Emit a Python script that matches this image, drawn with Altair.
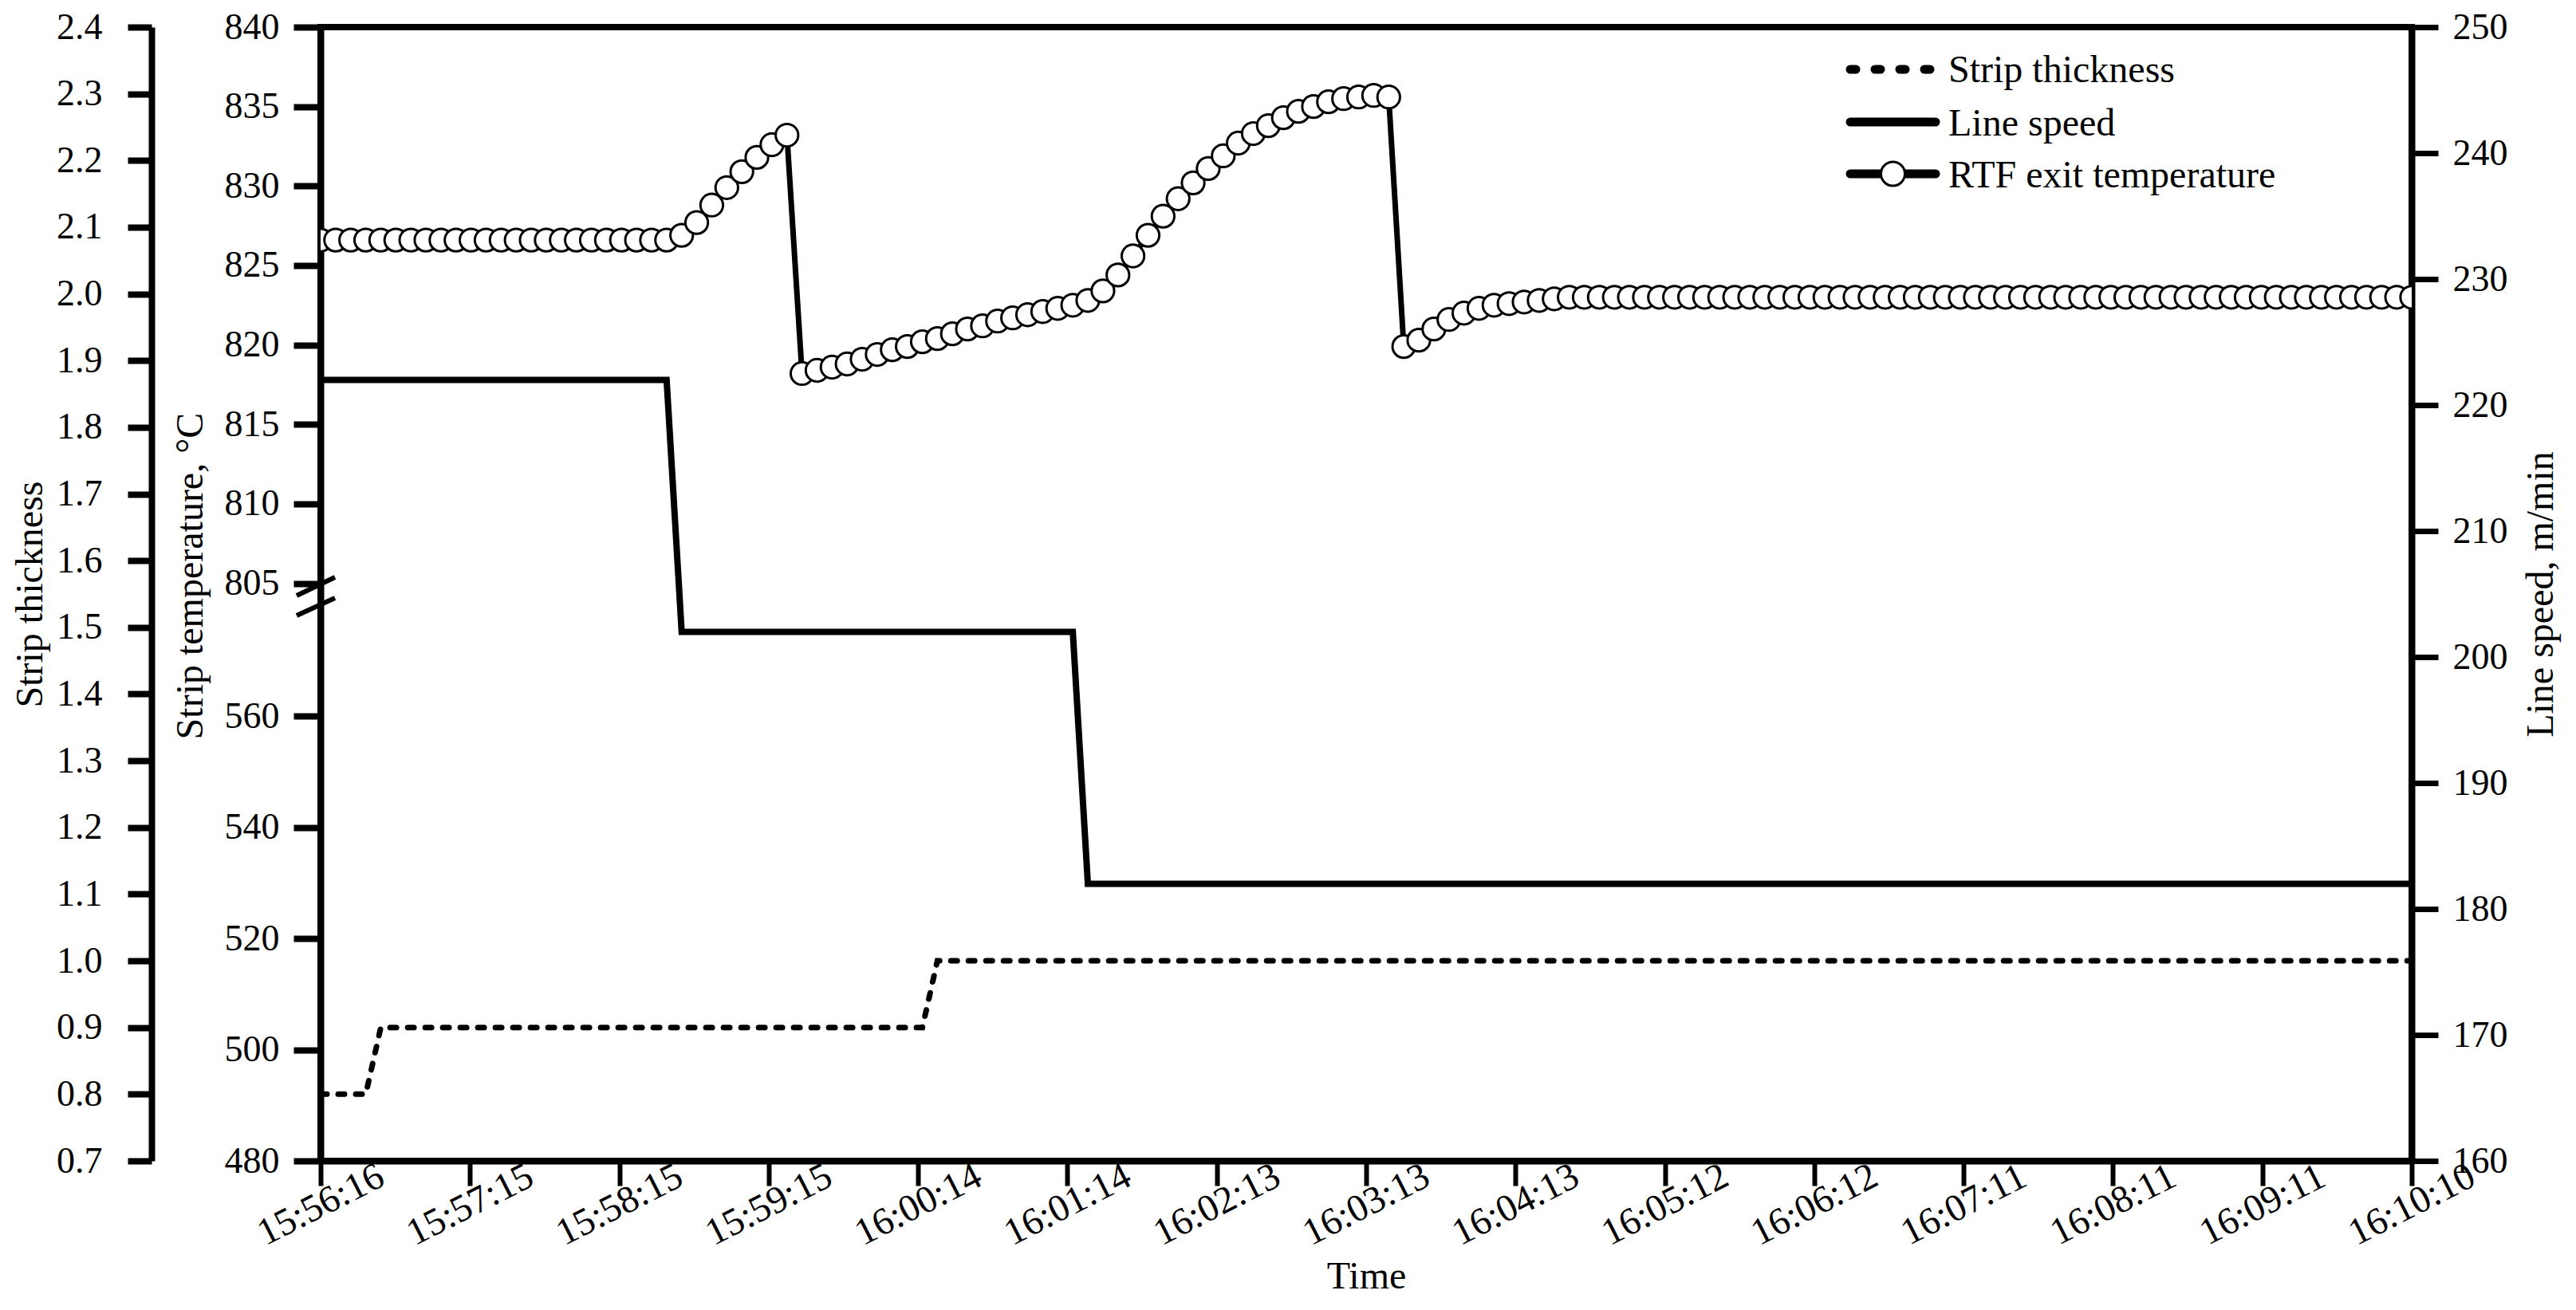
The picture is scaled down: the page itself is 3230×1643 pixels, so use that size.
import json
import altair as alt
import pandas as pd

# ---------------- data ----------------
tick_labels = ["15:56:16", "15:57:15", "15:58:15", "15:59:15", "16:00:14",
               "16:01:14", "16:02:13", "16:03:13", "16:04:13", "16:05:12",
               "16:06:12", "16:07:11", "16:08:11", "16:09:11", "16:10:10"]
span_sec = 834                      # 15:56:16 -> 16:10:10
sample_sec = list(range(0, span_sec + 1, 6))   # one sample every 6 s (140)

rtf_temp = ([826.6] * 24
            + [826.9, 827.7, 828.8, 829.9, 830.9, 831.8, 832.6, 833.2]
            + [818.2, 818.4, 818.6, 818.8, 819.1, 819.4, 819.7, 819.9, 820.2, 820.4,
               820.7, 821.0, 821.2, 821.5, 821.7, 821.9, 822.1, 822.3, 822.5, 822.8]
            + [823.4, 824.4, 825.6, 826.9, 828.1, 829.2, 830.2, 831.1, 831.9, 832.7,
               833.3, 833.8, 834.3, 834.7, 835.0, 835.3, 835.5, 835.6, 835.7, 835.6]
            + [819.9, 820.3, 821.0, 821.6, 822.0, 822.3, 822.5, 822.6, 822.7, 822.8, 822.9]
            + [823.0] * 57)
line_speed = [222] * 24 + [202] * 27 + [182] * 89
strip_thick = [0.8] * 4 + [0.9] * 37 + [1.0] * 99

thick_ticks = [0.7, 0.8, 0.9, 1.0, 1.1, 1.2, 1.3, 1.4, 1.5, 1.6, 1.7, 1.8, 1.9,
               2.0, 2.1, 2.2, 2.3, 2.4]
temp_lower_ticks = [480, 500, 520, 540, 560]
temp_upper_ticks = [805, 810, 815, 820, 825, 830, 835, 840]
speed_ticks = [160, 170, 180, 190, 200, 210, 220, 230, 240, 250]

legend_labels = ["Strip thickness", "Line speed", "RTF exit temperature"]

# ---------------- layout / style ----------------
W, H = 2622, 1422
FONT = "Liberation Serif"
# broken temperature axis: lower band 480..580, upper band 805..840
LO_BASE, LO_PX = 480, 6.975       # px per degC in lower band
UP_TOP, UP_PX = 840, 19.93        # px per degC in upper band


def vpos(t):
    return H - (UP_TOP - t) * UP_PX if t >= 700 else (t - LO_BASE) * LO_PX


temp_calc = (f"datum.temp >= 700 ? {H} - ({UP_TOP} - datum.temp) * {UP_PX}"
             f" : (datum.temp - {LO_BASE}) * {LO_PX}")
temp_label_expr = (f"datum.value > 710 ? format({UP_TOP} - ({H} - datum.value) / {UP_PX}, '.0f')"
                   f" : format({LO_BASE} + datum.value / {LO_PX}, '.0f')")

df = pd.DataFrame({"sec": sample_sec, "temp": rtf_temp,
                   "speed": line_speed, "thick": strip_thick})

x_enc = alt.X(
    "sec:Q",
    scale=alt.Scale(domain=[0, span_sec], nice=False, zero=False),
    axis=alt.Axis(
        values=[i * span_sec / 14 for i in range(15)],
        labelExpr=f"{json.dumps(tick_labels)}[round(datum.value * 14 / {span_sec})]",
        labelAngle=-27, labelAlign="center", labelBaseline="middle",
        labelPadding=24, labelFontSize=48, labelFlush=False, labelOverlap=False,
        tickSize=31, tickWidth=6, domainWidth=8, grid=False,
        title="Time", titleFontSize=48, titleY=159, titleBaseline="alphabetic",
    ),
)

base = alt.Chart(df)

thick_line = base.mark_line(color="black", strokeWidth=7, strokeDash=[8, 14],
                            strokeCap="round").encode(
    x=x_enc,
    y=alt.Y("thick:Q", scale=alt.Scale(domain=[0.7, 2.4], nice=False, zero=False),
            axis=alt.Axis(orient="left", offset=212, values=thick_ticks, format=".1f",
                          labelFontSize=46, labelPadding=32, tickSize=30, tickWidth=8,
                          domainWidth=8, grid=False, title="Strip thickness",
                          titleFontSize=48, titlePadding=8)),
)

speed_line = base.mark_line(color="black", strokeWidth=8).encode(
    x=x_enc,
    y=alt.Y("speed:Q", scale=alt.Scale(domain=[160, 250], nice=False, zero=False),
            axis=alt.Axis(orient="right", values=speed_ticks, format="d",
                          labelFontSize=46, labelPadding=18, tickSize=33, tickWidth=7,
                          domainWidth=8, grid=False, title="Line speed, m/min",
                          titleFontSize=48, titleAngle=270, titleBaseline="top",
                          titlePadding=18)),
)

temp_y = alt.Y("v:Q", scale=alt.Scale(domain=[0, H], nice=False, zero=False),
               axis=alt.Axis(orient="left", values=[vpos(t) for t in temp_lower_ticks + temp_upper_ticks],
                             labelExpr=temp_label_expr, labelFontSize=46, labelPadding=18,
                             tickSize=34, tickWidth=8, domainWidth=8, grid=False,
                             title="Strip temperature, °C", titleFontSize=48,
                             titlePadding=18, titleY=688))

temp_base = base.transform_calculate(v=temp_calc)
temp_line = temp_base.mark_line(color="black", strokeWidth=7).encode(x=x_enc, y=temp_y)
temp_pts = temp_base.mark_point(shape="circle", filled=True, fill="white", stroke="black",
                                strokeWidth=3, size=800, opacity=1, clip=True).encode(
    x=x_enc, y=temp_y)

one = pd.DataFrame({"k": [0]})
brk1 = alt.Chart(one).mark_rule(color="black", strokeWidth=6).encode(
    x=alt.value(-30), x2=alt.value(18), y=alt.value(713), y2=alt.value(690))
brk2 = alt.Chart(one).mark_rule(color="black", strokeWidth=6).encode(
    x=alt.value(-30), x2=alt.value(18), y=alt.value(738), y2=alt.value(716))

temp_group = alt.layer(temp_line, temp_pts, brk1, brk2)

# ---------------- legend ----------------
LX0, LX1, LTX = 1913, 2030, 2041
rows_line = [53, 119, 184]
rows_text = [69, 136, 201]
leg = []
leg.append(alt.Chart(one).mark_rule(color="black", strokeWidth=11, strokeDash=[7, 24],
                                    strokeCap="round").encode(
    x=alt.value(LX0 + 5), x2=alt.value(LX1), y=alt.value(rows_line[0])))
leg.append(alt.Chart(one).mark_rule(color="black", strokeWidth=11, strokeCap="round").encode(
    x=alt.value(LX0 + 5), x2=alt.value(LX1 - 5), y=alt.value(rows_line[1])))
leg.append(alt.Chart(one).mark_rule(color="black", strokeWidth=11, strokeCap="round").encode(
    x=alt.value(LX0 + 5), x2=alt.value(LX1 - 5), y=alt.value(rows_line[2])))
leg.append(alt.Chart(one).mark_point(shape="circle", filled=True, fill="white", stroke="black",
                                     strokeWidth=3, size=900, opacity=1).encode(
    x=alt.value((LX0 + LX1) / 2), y=alt.value(rows_line[2])))
for i, lab in enumerate(legend_labels):
    leg.append(alt.Chart(pd.DataFrame({"label": [lab]})).mark_text(
        align="left", baseline="alphabetic", font=FONT, fontSize=48, color="black").encode(
        x=alt.value(LTX), y=alt.value(rows_text[i]), text="label:N"))

chart = alt.layer(thick_line, speed_line, temp_group, *leg).resolve_scale(
    y="independent").properties(
    width=W, height=H,
    autosize=alt.AutoSizeParams(type="none"),
    padding={"left": 394, "top": 26, "right": 198, "bottom": 179},
).configure(font=FONT).configure_axis(
    labelFont=FONT, titleFont=FONT, labelColor="black", titleColor="black",
    domainColor="black", tickColor="black", titleFontWeight="normal",
).configure_view(stroke="black", strokeWidth=8)

chart.save("out.html", embed_options={"renderer": "svg", "actions": False})
